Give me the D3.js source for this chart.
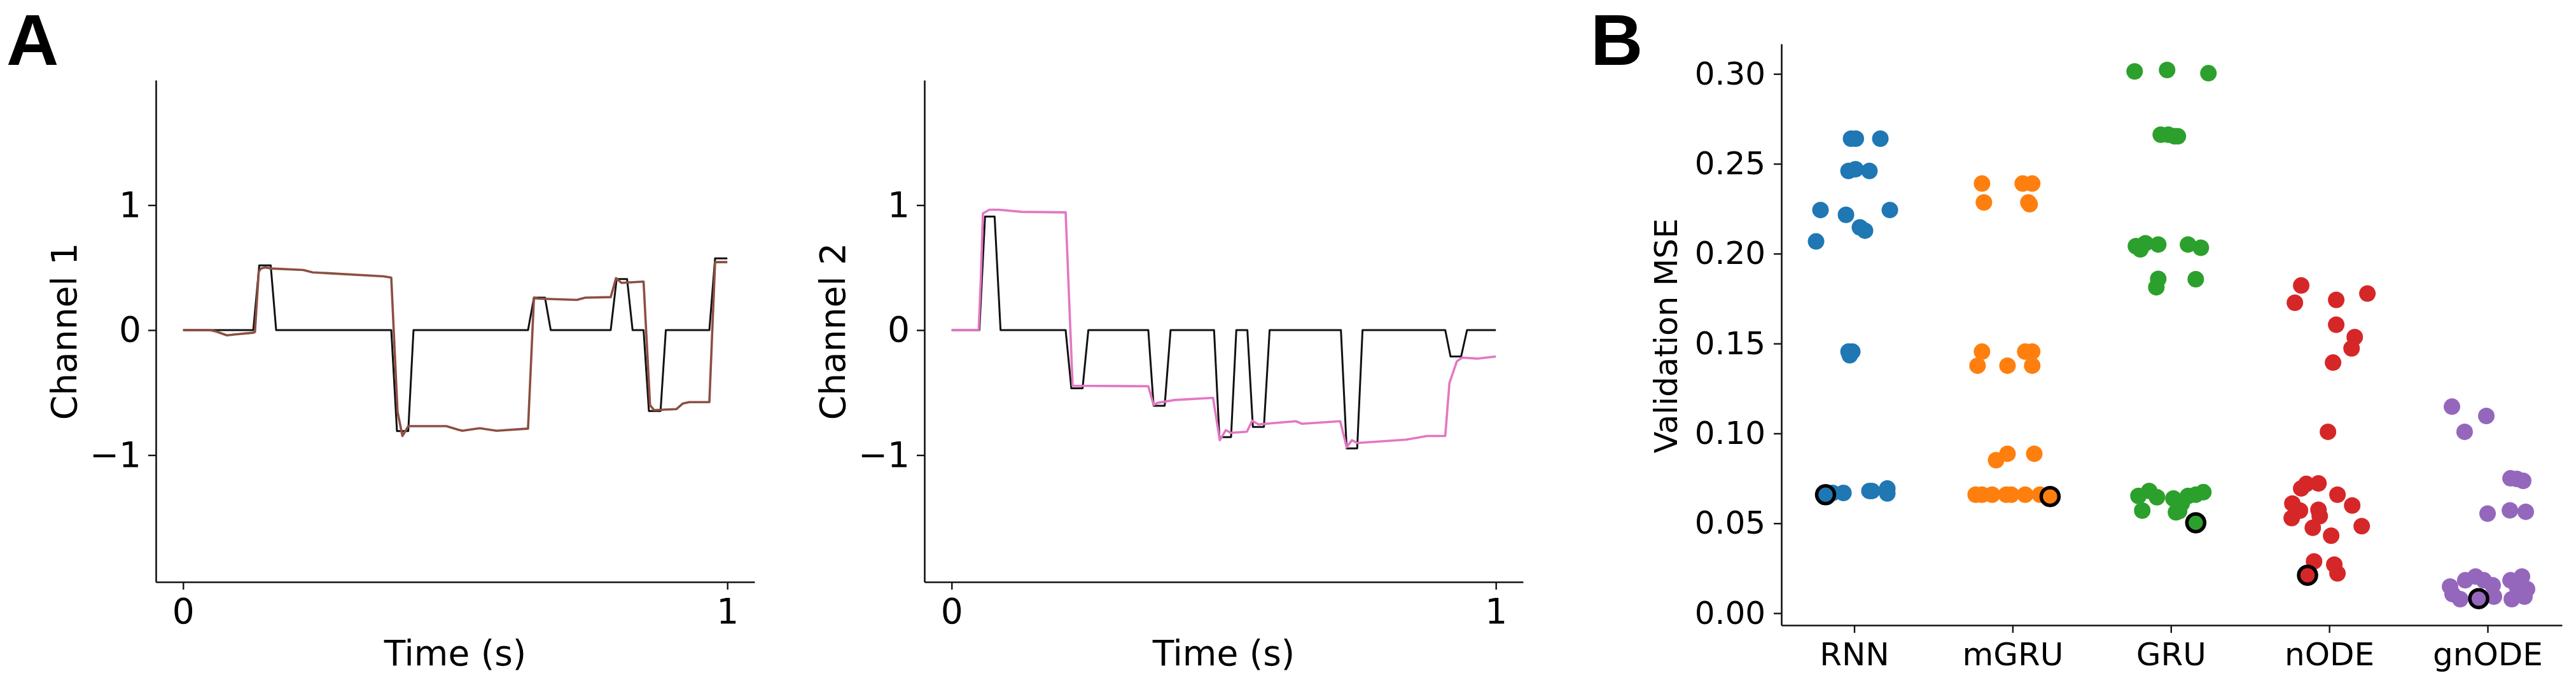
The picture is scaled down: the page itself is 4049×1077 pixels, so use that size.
<!DOCTYPE html>
<html>
<head>
<meta charset="utf-8">
<script src="https://cdn.jsdelivr.net/npm/d3@7"></script>
<style>
  html, body { margin: 0; padding: 0; background: #fff; }
  svg { display: block; }
  text { font-family: "DejaVu Sans", sans-serif; fill: #000; }
</style>
</head>
<body>
<svg id="fig" width="4049" height="1077"></svg>
<script>
// ---- data ----
// panel A: [time (s), value]
const ch1Target = [[0,0],[0.129,0],[0.140,0.518],[0.161,0.518],[0.171,0],[0.3825,0],[0.393,-0.808],[0.4137,-0.808],
  [0.4234,0],[0.6338,0],[0.6447,0.26],[0.665,0.26],[0.6755,0],[0.7857,0],[0.7966,0.408],[0.8158,0.408],[0.8259,0],
  [0.8461,0],[0.8559,-0.647],[0.8773,-0.647],[0.887,0],[0.967,0],[0.9775,0.574],[1.0,0.574]];
const ch1Pred = [[0,0],[0.049,0],[0.061,-0.011],[0.0805,-0.042],[0.096,-0.034],[0.129,-0.021],[0.132,-0.016],
  [0.139,0.467],[0.143,0.493],[0.1506,0.501],[0.162,0.493],[0.221,0.481],[0.238,0.462],[0.369,0.43],[0.3825,0.42],
  [0.394,-0.652],[0.403,-0.847],[0.4078,-0.813],[0.4137,-0.768],[0.4838,-0.768],[0.505,-0.796],[0.513,-0.805],
  [0.545,-0.785],[0.576,-0.805],[0.6338,-0.788],[0.6447,0.26],[0.653,0.252],[0.7234,0.242],[0.739,0.26],
  [0.7857,0.264],[0.7955,0.416],[0.8053,0.378],[0.8461,0.388],[0.858,-0.601],[0.8656,-0.64],[0.9065,-0.632],
  [0.918,-0.588],[0.93,-0.576],[0.967,-0.576],[0.9775,0.544],[1.0,0.544]];
const ch2Target = [[0,0],[0.051,0],[0.0614,0.908],[0.079,0.908],[0.0899,0],[0.2095,0],[0.22,-0.466],[0.2406,-0.466],
  [0.2512,0],[0.3614,0],[0.3711,-0.605],[0.3915,-0.605],[0.4023,0],[0.4822,0],[0.492,-0.856],[0.5134,-0.856],
  [0.5231,0],[0.5434,0],[0.5535,-0.774],[0.5738,-0.774],[0.5843,0],[0.7153,0],[0.7258,-0.946],[0.7452,-0.946],
  [0.755,0],[0.907,0],[0.9167,-0.211],[0.9362,-0.211],[0.947,0],[1.0,0]];
const ch2Pred = [[0,0],[0.0497,0],[0.0537,0.416],[0.0575,0.934],[0.0692,0.963],[0.0867,0.963],[0.1296,0.946],
  [0.2095,0.942],[0.2223,-0.445],[0.3614,-0.449],[0.3711,-0.598],[0.379,-0.581],[0.41,-0.559],[0.4803,-0.542],
  [0.4927,-0.881],[0.5037,-0.801],[0.5134,-0.822],[0.5426,-0.813],[0.5523,-0.725],[0.564,-0.754],[0.6323,-0.729],
  [0.6439,-0.749],[0.714,-0.729],[0.7258,-0.937],[0.7355,-0.881],[0.7452,-0.903],[0.8348,-0.876],[0.8738,-0.847],
  [0.907,-0.847],[0.9147,-0.423],[0.9284,-0.249],[0.9381,-0.22],[0.9673,-0.228],[1.0,-0.211]];
const timeTicks = [0, 1];
const channelTicks = [-1, 0, 1];

// panel B: [jitter offset (category units), validation MSE]
const models = ["RNN", "mGRU", "GRU", "nODE", "gnODE"];
const rnnPts = [[-0.02,0.264],[0.01,0.264],[0.165,0.264],[-0.036,0.246],[0.008,0.247],[0.096,0.246],[-0.213,0.2243],
  [-0.052,0.2216],[0.225,0.2243],[0.036,0.2146],[0.068,0.2128],[-0.241,0.2068],[-0.036,0.1455],[-0.012,0.1455],
  [-0.028,0.1435],[-0.137,0.0669],[-0.068,0.0669],[0.096,0.068],[0.112,0.068],[0.209,0.0694],[0.209,0.0666]];
const mgruPts = [[-0.193,0.239],[0.064,0.239],[0.124,0.239],[-0.181,0.2285],[0.1,0.2285],[0.108,0.2275],
  [-0.193,0.1455],[0.08,0.1455],[0.124,0.1455],[-0.221,0.1377],[-0.032,0.1377],[0.124,0.1377],[-0.104,0.0851],
  [-0.032,0.0887],[0.137,0.0887],[-0.233,0.0659],[-0.193,0.0659],[-0.129,0.0659],[-0.04,0.0659],[-0.008,0.0659],
  [0.08,0.0659],[0.173,0.0659]];
const gruPts = [[-0.229,0.3014],[-0.024,0.3022],[0.237,0.3004],[-0.064,0.2662],[-0.016,0.2662],[0.024,0.2653],
  [0.044,0.2653],[-0.221,0.2042],[-0.193,0.2024],[-0.161,0.2058],[-0.08,0.2051],[0.108,0.2051],[0.189,0.2033],
  [-0.08,0.186],[-0.092,0.1813],[0.157,0.1858],[-0.205,0.0652],[-0.137,0.068],[-0.088,0.0645],[-0.181,0.0571],
  [0.016,0.0638],[0.032,0.0561],[0.068,0.061],[0.108,0.0652],[0.157,0.0659],[0.205,0.0673],[0.052,0.0568]];
const nodePts = [[-0.177,0.1823],[-0.217,0.1727],[0.044,0.1743],[0.241,0.1778],[0.044,0.1605],[0.161,0.1536],
  [0.141,0.1473],[0.024,0.1394],[-0.008,0.1009],[-0.177,0.0694],[-0.145,0.0719],[-0.068,0.0722],[0.052,0.0659],
  [-0.233,0.061],[-0.185,0.0571],[0.145,0.0599],[-0.068,0.0575],[-0.06,0.054],[-0.237,0.0529],[-0.104,0.0475],
  [0.205,0.0484],[0.012,0.0431],[-0.096,0.0288],[0.032,0.027],[0.052,0.0221]];
const gnodePts = [[-0.225,0.1149],[-0.008,0.1097],[-0.145,0.1009],[0.145,0.075],[0.185,0.0747],[0.225,0.0736],
  [0,0.0554],[0.141,0.0572],[0.241,0.0564],[-0.237,0.0148],[-0.221,0.0106],[-0.173,0.0078],[-0.141,0.0183],
  [-0.076,0.0204],[-0.024,0.0183],[0.032,0.0155],[0.04,0.0092],[0.145,0.0183],[0.153,0.0078],[0.217,0.0204],
  [0.249,0.0134],[0.233,0.0092],[0.185,0.0148]];
const bestPts = [[-0.181,0.0659],[0.237,0.0649],[0.157,0.0503],[-0.137,0.0211],[-0.056,0.0081]];
const mseTicks = [0, 0.05, 0.10, 0.15, 0.20, 0.25, 0.30];

const modelColors = ["#1f77b4", "#ff7f0e", "#2ca02c", "#d62728", "#9467bd"];
const modelPts = [rnnPts, mgruPts, gruPts, nodePts, gnodePts];

const svg = d3.select("#fig");

// panel letters
svg.append("text").attr("x", 10).attr("y", 102)
  .style("font-family", "'Liberation Sans', Arial, sans-serif")
  .attr("font-weight", "bold").attr("font-size", 114).text("A");
svg.append("text").attr("x", 2500).attr("y", 102)
  .style("font-family", "'Liberation Sans', Arial, sans-serif")
  .attr("font-weight", "bold").attr("font-size", 114).text("B");

function styleAxis(g, fontSize) {
  g.select(".domain").attr("stroke", "#111").attr("stroke-width", 2.6);
  g.selectAll(".tick line").attr("stroke", "#111").attr("stroke-width", 2.4);
  g.selectAll(".tick text").attr("font-size", fontSize).attr("fill", "#000")
    .style("font-family", "'DejaVu Sans', sans-serif");
}

// ---- panel A: two channel traces ----
function channelPanel(left, target, pred, predColor, label) {
  const right = left + 941;
  const x = d3.scaleLinear().domain([-0.05, 1.05]).range([left, right]);
  const y = d3.scaleLinear().domain([-2.015, 2]).range([915, 126]);

  const gx = svg.append("g").attr("transform", "translate(0,915)")
    .call(d3.axisBottom(x).tickValues(timeTicks).tickFormat(d3.format("d"))
      .tickSize(12).tickPadding(14).tickSizeOuter(0));
  styleAxis(gx, 55);
  const gy = svg.append("g").attr("transform", `translate(${left},0)`)
    .call(d3.axisLeft(y).tickValues(channelTicks).tickFormat(d => d < 0 ? "\u2212" + Math.abs(d) : d)
      .tickSize(12).tickPadding(11).tickSizeOuter(0));
  styleAxis(gy, 55);

  const line = d3.line().x(d => x(d[0])).y(d => y(d[1]));
  svg.append("path").datum(target).attr("d", line)
    .attr("fill", "none").attr("stroke", "#111").attr("stroke-width", 3).attr("stroke-linejoin", "round");
  svg.append("path").datum(pred).attr("d", line)
    .attr("fill", "none").attr("stroke", predColor).attr("stroke-width", 3.6).attr("stroke-linejoin", "round");

  svg.append("text").attr("x", (left + right) / 2).attr("y", 1046)
    .attr("text-anchor", "middle").attr("font-size", 55).text("Time (s)");
  svg.append("text").attr("transform", `translate(${left - 125},521) rotate(-90)`)
    .attr("text-anchor", "middle").attr("font-size", 55).text(label);
}

channelPanel(245, ch1Target, ch1Pred, "#8c4f42", "Channel 1");
channelPanel(1453, ch2Target, ch2Pred, "#e377c2", "Channel 2");

// ---- panel B: validation MSE strip plot ----
const xb = d3.scaleLinear().domain([-0.46, 4.47]).range([2800, 4027]);
const yb = d3.scaleLinear().domain([-0.0067, 0.3167]).range([983, 69]);

const gbx = svg.append("g").attr("transform", "translate(0,983)")
  .call(d3.axisBottom(xb).tickValues(d3.range(models.length)).tickFormat(i => models[i])
    .tickSize(12).tickPadding(15).tickSizeOuter(0));
styleAxis(gbx, 50);
const gby = svg.append("g").attr("transform", "translate(2800,0)")
  .call(d3.axisLeft(yb).tickValues(mseTicks).tickFormat(d3.format(".2f"))
    .tickSize(12).tickPadding(13).tickSizeOuter(0));
styleAxis(gby, 50);

svg.append("text").attr("transform", "translate(2636,528) rotate(-90)")
  .attr("text-anchor", "middle").attr("font-size", 50).text("Validation MSE");

models.forEach((m, i) => {
  const g = svg.append("g");
  g.selectAll("circle.pt").data(modelPts[i]).enter().append("circle")
    .attr("class", "pt")
    .attr("cx", d => xb(i + d[0])).attr("cy", d => yb(d[1]))
    .attr("r", 13).attr("fill", modelColors[i]);
  g.append("circle").datum(bestPts[i])
    .attr("cx", d => xb(i + d[0])).attr("cy", d => yb(d[1]))
    .attr("r", 14).attr("fill", modelColors[i])
    .attr("stroke", "#000").attr("stroke-width", 5.5);
});
</script>
</body>
</html>
